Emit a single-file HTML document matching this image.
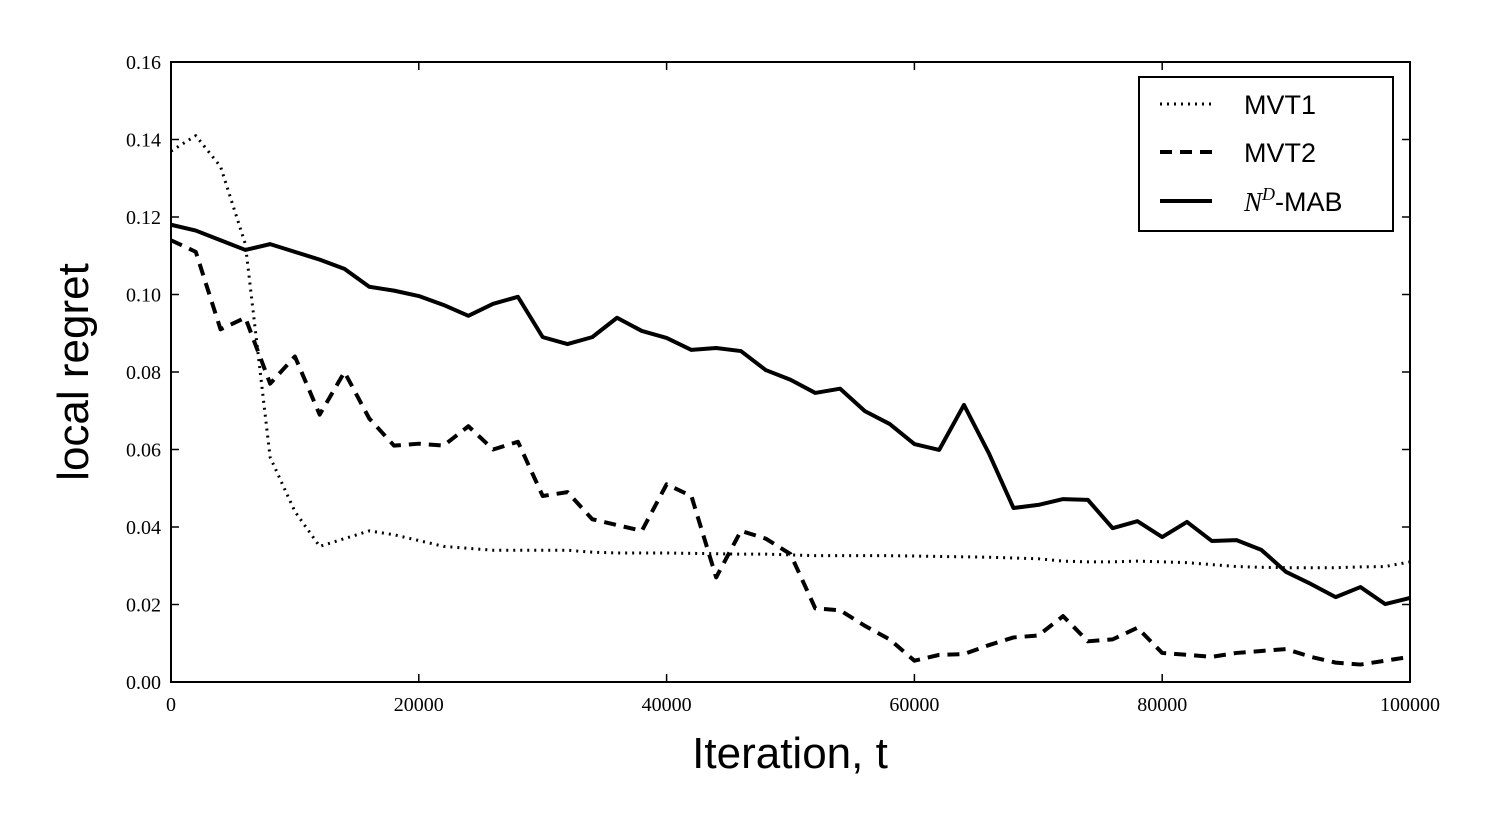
<!DOCTYPE html>
<html><head><meta charset="utf-8"><style>
html,body{margin:0;padding:0;background:#fff;}
svg{display:block;}
</style></head><body>
<svg id="chart" width="1502" height="830" xmlns="http://www.w3.org/2000/svg">
<g id="plot"></g>
<text x="790" y="768" font-family="Liberation Sans, sans-serif" font-size="44" text-anchor="middle">Iteration, t</text>
<text transform="translate(88,372) rotate(-90)" font-family="Liberation Sans, sans-serif" font-size="44" text-anchor="middle">local regret</text>
<g>
<rect x="1139" y="77" width="254" height="154" fill="#fff" stroke="#000" stroke-width="2"/>
<line x1="1160" y1="104" x2="1212" y2="104" stroke="#000" stroke-width="3" stroke-dasharray="2,5"/>
<text x="1244" y="114" font-family="Liberation Sans, sans-serif" font-size="27">MVT1</text>
<line x1="1160" y1="152" x2="1212" y2="152" stroke="#000" stroke-width="4" stroke-dasharray="12,8"/>
<text x="1244" y="162" font-family="Liberation Sans, sans-serif" font-size="27">MVT2</text>
<line x1="1160" y1="201" x2="1212" y2="201" stroke="#000" stroke-width="4"/>
<text x="1244" y="211" font-family="Liberation Sans, sans-serif" font-size="27"><tspan font-family="Liberation Serif, serif" font-style="italic">N</tspan><tspan font-family="Liberation Serif, serif" font-style="italic" font-size="18" dy="-11">D</tspan><tspan dy="11">-MAB</tspan></text>
</g>
</svg>
<script>
const xTicks=[0,20000,40000,60000,80000,100000];
const yTicks=[0.00,0.02,0.04,0.06,0.08,0.10,0.12,0.14,0.16];
const iterations=[];for(let i=0;i<=50;i++)iterations.push(i*2000);
const ndmab=[0.118,0.1165,0.114,0.1115,0.113,0.111,0.109,0.1066,0.102,0.101,0.0996,0.0973,0.0945,0.0976,0.0994,0.089,0.0872,0.089,0.094,0.0906,0.0888,0.0857,0.0862,0.0854,0.0805,0.078,0.0746,0.0757,0.0699,0.0666,0.0614,0.0599,0.0715,0.0591,0.0449,0.0457,0.0472,0.047,0.0397,0.0415,0.0374,0.0413,0.0364,0.0366,0.0341,0.0284,0.0253,0.0219,0.0245,0.0201,0.0217];
const mvt2=[0.114,0.111,0.091,0.094,0.077,0.084,0.069,0.080,0.068,0.061,0.0615,0.061,0.066,0.060,0.062,0.048,0.049,0.042,0.0405,0.039,0.051,0.048,0.027,0.039,0.037,0.033,0.019,0.0185,0.0145,0.011,0.0055,0.007,0.0072,0.0095,0.0115,0.012,0.017,0.0105,0.011,0.014,0.0075,0.007,0.0065,0.0075,0.008,0.0085,0.0065,0.005,0.0045,0.0055,0.0065];
const mvt1=[0.137,0.141,0.133,0.113,0.058,0.044,0.035,0.037,0.039,0.038,0.0365,0.035,0.0345,0.034,0.034,0.034,0.034,0.0335,0.0333,0.0333,0.0333,0.0332,0.0331,0.033,0.033,0.0328,0.0326,0.0326,0.0326,0.0326,0.0325,0.0324,0.0323,0.0322,0.032,0.0318,0.0312,0.031,0.031,0.0312,0.031,0.0308,0.0303,0.0298,0.0296,0.0295,0.0295,0.0295,0.0297,0.0298,0.031];
const L=171,R=1410,T=62,B=682;
const xs=v=>L+(v-0)/100000*(R-L);
const ys=v=>B-(v-0)/0.16*(B-T);
const NS="http://www.w3.org/2000/svg";
const g=document.getElementById('plot');
function mk(tag,attrs){const e=document.createElementNS(NS,tag);for(const k in attrs)e.setAttribute(k,attrs[k]);g.appendChild(e);return e;}
function series(vals,dash,w,name){
  const p=mk('polyline',{points:vals.map((v,i)=>xs(iterations[i])+','+ys(v)).join(' '),fill:'none',stroke:'#000','stroke-width':w,'stroke-dasharray':dash,'stroke-linejoin':'round'});
  
  
}
xTicks.forEach(v=>{
  const x=xs(v);
  mk('line',{x1:x,y1:B,x2:x,y2:B-8,stroke:'#000','stroke-width':1.5});
  mk('line',{x1:x,y1:T,x2:x,y2:T+8,stroke:'#000','stroke-width':1.5});
  const t=mk('text',{x:x,y:B+29,'font-family':'Liberation Serif, serif','font-size':20,'text-anchor':'middle'});
  t.textContent=v;
  
  
});
yTicks.forEach(v=>{
  const y=ys(v);
  mk('line',{x1:L,y1:y,x2:L+8,y2:y,stroke:'#000','stroke-width':1.5});
  mk('line',{x1:R,y1:y,x2:R-8,y2:y,stroke:'#000','stroke-width':1.5});
  const t=mk('text',{x:L-10,y:y+7,'font-family':'Liberation Serif, serif','font-size':20,'text-anchor':'end'});
  t.textContent=v.toFixed(2);
  
  
});
series(mvt1,'2,5',3,'mvt1-line');
series(mvt2,'12,8',4,'mvt2-line');
series(ndmab,'none',4,'ndmab-line');
const f=mk('rect',{x:L,y:T,width:R-L,height:B-T,fill:'none',stroke:'#000','stroke-width':2});


</script>
</body></html>
